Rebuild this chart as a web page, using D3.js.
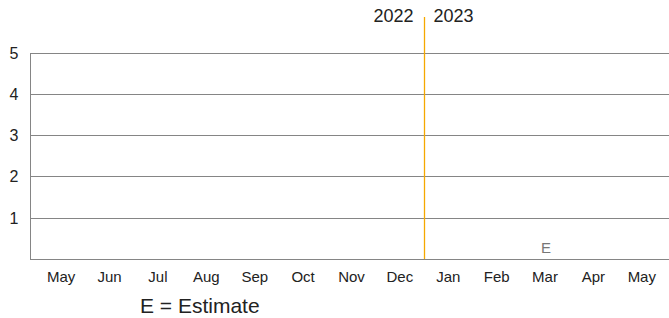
<!DOCTYPE html>
<html lang="en">
<head>
    <meta charset="UTF-8">
    <title>Chart</title>
    <script src="https://cdn.jsdelivr.net/npm/d3@7/dist/d3.min.js"></script>
    <style>
        body{margin:0;background:#fff}
        text{font-family:"Liberation Sans",Arial,sans-serif}
    </style>
</head>
<body>
<div class="chart"></div>
<script>
    let months=["May","Jun","Jul","Aug","Sep","Oct","Nov","Dec","Jan","Feb","Mar","Apr","May"]
    let yTicks=[1,2,3,4,5]
    let years=["2022","2023"]
    let yearBreak=8          // index of first month of 2023
    let estimates=[10]       // month index flagged "E"
    let estimateValue=[0]

    let width=669,height=318
    let svg=d3.select('.chart').append('svg').attr('width',width).attr('height',height)

    let x=d3.scaleBand().domain(d3.range(months.length)).range([37,666])
    let y=d3.scaleLinear().domain([0,5]).range([259,52.5])

    // grid lines
    svg.append('g').selectAll('line').data([0].concat(yTicks)).join('line')
        .attr('x1',30).attr('x2',width)
        .attr('y1',d=>Math.round(y(d))+0.5).attr('y2',d=>Math.round(y(d))+0.5)
        .attr('stroke','#858585').attr('stroke-width',1)

    // left axis line
    svg.append('line').attr('x1',30.5).attr('x2',30.5).attr('y1',Math.round(y(5))).attr('y2',Math.round(y(0))+1)
        .attr('stroke','#858585')

    // y labels
    svg.append('g').selectAll('text').data(yTicks).join('text')
        .attr('x',14).attr('y',d=>y(d)+6).attr('text-anchor','middle')
        .attr('font-size',16).attr('fill','#222').text(d=>d)

    // x labels
    svg.append('g').selectAll('text').data(months).join('text')
        .attr('x',(d,i)=>x(i)+x.bandwidth()/2).attr('y',282).attr('text-anchor','middle')
        .attr('font-size',15).attr('fill','#222').text(d=>d)

    // year divider
    let xb=Math.round(x(yearBreak))+0.5
    svg.append('line').attr('x1',xb).attr('x2',xb).attr('y1',17).attr('y2',y(0))
        .attr('stroke','#f5a800').attr('stroke-width',1.3)
    svg.append('text').attr('x',xb-11).attr('y',22).attr('text-anchor','end')
        .attr('font-size',18).attr('fill','#222').text(years[0])
    svg.append('text').attr('x',xb+9).attr('y',22).attr('text-anchor','start')
        .attr('font-size',18).attr('fill','#222').text(years[1])

    // estimate markers
    svg.append('g').selectAll('text').data(estimates).join('text')
        .attr('x',d=>x(d)+x.bandwidth()/2+1).attr('y',(d,i)=>y(estimateValue[i])-6)
        .attr('text-anchor','middle').attr('font-size',15).attr('fill','#777').text('E')

    svg.append('text').attr('x',140).attr('y',313).attr('font-size',21).attr('fill','#222')
        .text('E = Estimate')
</script>
</body>
</html>
